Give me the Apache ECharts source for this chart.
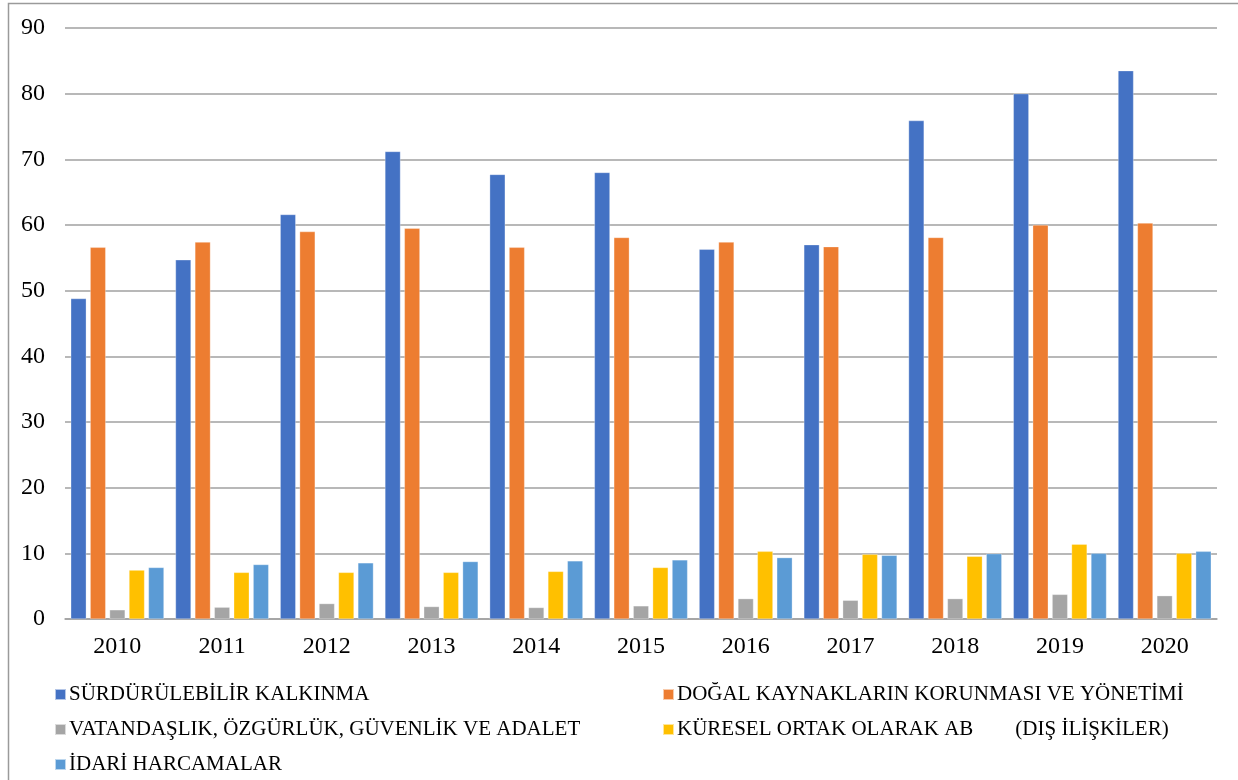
<!DOCTYPE html>
<html>
<head>
<meta charset="utf-8">
<script src="https://cdn.jsdelivr.net/npm/echarts@6/dist/echarts.min.js"></script>
<style>
  html, body { margin: 0; padding: 0; background: #fff; }
  #main { width: 1238px; height: 780px; }
</style>
</head>
<body>
<div id="main"></div>
<script>
const years = ["2010", "2011", "2012", "2013", "2014", "2015", "2016", "2017", "2018", "2019", "2020"];
const seriesNames = [
  "SÜRDÜRÜLEBİLİR KALKINMA",
  "DOĞAL KAYNAKLARIN KORUNMASI VE YÖNETİMİ",
  "VATANDAŞLIK, ÖZGÜRLÜK, GÜVENLİK VE ADALET",
  "KÜRESEL ORTAK OLARAK AB        (DIŞ İLİŞKİLER)",
  "İDARİ HARCAMALAR"
];
const surdurulebilir = [48.8, 54.7, 61.6, 71.2, 67.7, 68.0, 56.3, 57.0, 75.9, 80.0, 83.5];
const dogalKaynaklar = [56.6, 57.4, 59.0, 59.5, 56.6, 58.1, 57.4, 56.7, 58.1, 60.0, 60.3];
const vatandaslik = [1.4, 1.8, 2.35, 1.9, 1.75, 2.0, 3.1, 2.85, 3.1, 3.75, 3.55];
const kuresel = [7.45, 7.1, 7.1, 7.1, 7.25, 7.85, 10.3, 9.85, 9.55, 11.4, 10.0];
const idari = [7.85, 8.3, 8.55, 8.75, 8.85, 9.0, 9.35, 9.7, 9.95, 10.0, 10.3];
const yTicks = [0, 10, 20, 30, 40, 50, 60, 70, 80, 90];

const colors = ["#4472C4", "#ED7D31", "#A5A5A5", "#FFC000", "#5B9BD5"];
const values = [surdurulebilir, dogalKaynaklar, vatandaslik, kuresel, idari];
const font = "'Liberation Serif', 'Times New Roman', serif";

const chart = echarts.init(document.getElementById("main"));

// two vertical legends side by side, like the two columns in the picture
const legendStyle = {
  orient: "vertical",
  top: 679,
  height: 140,
  itemWidth: 11,
  itemHeight: 11,
  itemGap: 14,
  icon: "rect",
  textStyle: { fontFamily: font, fontSize: 21, color: "#000", lineHeight: 21, padding: [0, 0, 0, -2] }
};

chart.setOption({
  animation: false,
  color: colors,
  graphic: [{
    type: "rect",
    shape: { x: 8.5, y: 3.5, width: 1240, height: 800 },
    style: { fill: "none", stroke: "#9a9a9a", lineWidth: 1.5 },
    silent: true
  }],
  grid: { left: 65, right: 21, top: 28, bottom: 161 },
  legend: [
    Object.assign({ left: 49, data: [seriesNames[0], seriesNames[2], seriesNames[4]] }, legendStyle),
    Object.assign({ left: 657, data: [seriesNames[1], seriesNames[3]] }, legendStyle)
  ],
  xAxis: {
    type: "category",
    data: years,
    axisLine: { lineStyle: { color: "#a0a0a0", width: 1.5 } },
    axisTick: { show: false },
    axisLabel: { fontFamily: font, fontSize: 24, color: "#000", margin: 16 }
  },
  yAxis: {
    type: "value",
    min: yTicks[0],
    max: yTicks[yTicks.length - 1],
    interval: 10,
    axisLine: { show: false },
    axisTick: { show: false },
    splitLine: { lineStyle: { color: "#a0a0a0", width: 1.5 } },
    axisLabel: { fontFamily: font, fontSize: 24, color: "#000", margin: 20 }
  },
  series: seriesNames.map((name, i) => ({
    name: name,
    type: "bar",
    data: values[i],
    barGap: "25%",
    barCategoryGap: "11%",
    itemStyle: { color: colors[i], borderColor: "rgba(255,255,255,0.6)", borderWidth: 0.5 }
  }))
});
</script>
</body>
</html>
